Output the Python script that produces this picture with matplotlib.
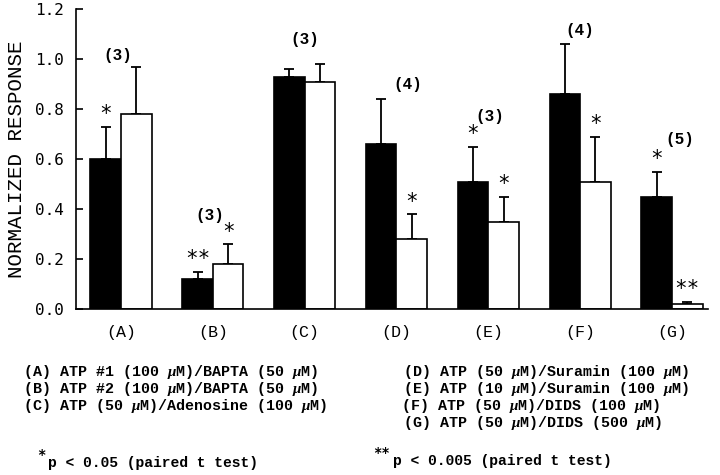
import matplotlib
matplotlib.use("Agg")
import matplotlib.pyplot as plt
import numpy as np

# ---- data ----
groups = ["(A)", "(B)", "(C)", "(D)", "(E)", "(F)", "(G)"]
black_vals = [0.60, 0.12, 0.93, 0.66, 0.51, 0.86, 0.45]
black_err = [0.13, 0.03, 0.03, 0.18, 0.14, 0.20, 0.10]
white_vals = [0.78, 0.18, 0.91, 0.28, 0.35, 0.51, 0.02]
white_err = [0.19, 0.08, 0.07, 0.10, 0.10, 0.18, 0.01]
sig_black = ["*", "**", "", "", "*", "", "*"]
sig_white = ["", "*", "", "*", "*", "*", "**"]
n_labels = ["(3)", "(3)", "(3)", "(4)", "(3)", "(4)", "(5)"]
yticks = [0.0, 0.2, 0.4, 0.6, 0.8, 1.0, 1.2]

legend_left = [
    r"(A) ATP #1 (100 $\mu$M)/BAPTA (50 $\mu$M)",
    r"(B) ATP #2 (100 $\mu$M)/BAPTA (50 $\mu$M)",
    r"(C) ATP (50 $\mu$M)/Adenosine (100 $\mu$M)",
]
legend_right = [
    r"(D) ATP (50 $\mu$M)/Suramin (100 $\mu$M)",
    r"(E) ATP (10 $\mu$M)/Suramin (100 $\mu$M)",
    r"(F) ATP (50 $\mu$M)/DIDS (100 $\mu$M)",
    r"(G) ATP (50 $\mu$M)/DIDS (500 $\mu$M)",
]

# ---- layout (annotation placement) ----
n_label_dx = [-0.04, -0.03, 0.0, 0.12, 0.02, 0.0, 0.09]
n_label_y = [1.016, 0.376, 1.08, 0.90, 0.77, 1.116, 0.68]

plt.rcParams["mathtext.fontset"] = "custom"
plt.rcParams["mathtext.it"] = "Liberation Serif:italic:bold"
plt.rcParams["mathtext.rm"] = "Liberation Mono:bold"

fig = plt.figure(figsize=(7.2, 4.75), dpi=100)
ax = fig.add_axes([0.1056, 0.349, 0.983 - 0.1056, 0.981 - 0.349])

x = np.arange(len(groups))
w = 0.333
xb = x - w / 2
xw = x + w / 2

ax.bar(xb, black_vals, width=w, color="black", edgecolor="black", linewidth=1.2, zorder=2)
ax.bar(xw, white_vals, width=w, color="white", edgecolor="black", linewidth=1.2, zorder=2)
ax.errorbar(xb, black_vals, yerr=[np.zeros(len(x)), black_err], fmt="none",
            ecolor="black", elinewidth=1.3, capsize=3.5, capthick=1.3, zorder=1)
ax.errorbar(xw, white_vals, yerr=[np.zeros(len(x)), white_err], fmt="none",
            ecolor="black", elinewidth=1.3, capsize=3.5, capthick=1.3, zorder=1)

star_font = dict(family="DejaVu Sans Mono", fontsize=15, ha="center", va="center")
btops = np.array(black_vals) + np.array(black_err)
wtops = np.array(white_vals) + np.array(white_err)
for i in range(len(x)):
    if sig_black[i]:
        ax.annotate(sig_black[i], (xb[i], btops[i]), xytext=(0, 9),
                    textcoords="offset points", **star_font)
    if sig_white[i]:
        ax.annotate(sig_white[i], (xw[i], wtops[i]), xytext=(0, 9),
                    textcoords="offset points", **star_font)
    ax.text(x[i] + n_label_dx[i], n_label_y[i], n_labels[i], ha="center", va="center",
            family="Liberation Mono", fontweight="bold", fontsize=11.5)

ax.set_xlim(-0.49, 6.39)
ax.set_ylim(0, 1.2)
ax.set_yticks(yticks)
ax.set_yticklabels([f"{t:.1f}" for t in yticks], family="DejaVu Sans Mono", fontsize=11.5)
ax.set_xticks(x)
ax.set_xticklabels(groups, family="Liberation Mono", fontsize=12)
ax.tick_params(axis="y", direction="in", length=5, width=1.2, pad=9)
ax.tick_params(axis="x", length=0, pad=11)
for s in ["top", "right"]:
    ax.spines[s].set_visible(False)
for s in ["left", "bottom"]:
    ax.spines[s].set_linewidth(1.2)
ax.set_ylabel("NORMALIZED RESPONSE", family="Liberation Mono", fontsize=15, labelpad=6)

H = 475.0
lf = dict(family="Liberation Mono", fontweight="bold", fontsize=10.8, va="center", ha="left")
for k, t in enumerate(legend_left):
    fig.text(23 / 720, 1 - (372 + 17 * k) / H, t, **lf)
right_x = [403, 403, 401, 403]
for k, t in enumerate(legend_right):
    fig.text(right_x[k] / 720, 1 - (372 + 17 * k) / H, t, **lf)

ff = dict(lf, fontsize=10.5)
fig.text(46 / 720, 1 - 455 / H, "*", family="DejaVu Sans Mono", fontsize=10, fontweight="bold",
         ha="right", va="center")
fig.text(48 / 720, 1 - 463 / H, "p < 0.05 (paired t test)", **ff)
fig.text(390 / 720, 1 - 453 / H, "**", family="DejaVu Sans Mono", fontsize=10, fontweight="bold",
         ha="right", va="center")
fig.text(393 / 720, 1 - 461 / H, "p < 0.005 (paired t test)", **ff)

fig.savefig("out.png", dpi=100)
